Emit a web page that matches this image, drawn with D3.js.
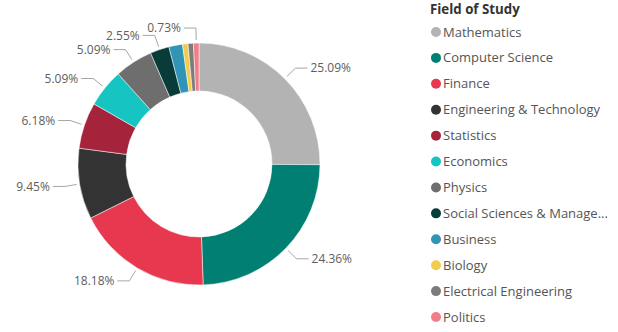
<!DOCTYPE html>
<html>
<head>
<meta charset="utf-8">
<script src="https://cdn.jsdelivr.net/npm/d3@7"></script>
<style>
  html, body { margin: 0; padding: 0; background: #fff; }
  svg { display: block; font-family: "Segoe UI", "Open Sans", "Noto Sans", sans-serif; }
</style>
</head>
<body>
<svg id="chart" width="618" height="332"></svg>
<script>
const categories = ["Mathematics", "Computer Science", "Finance", "Engineering & Technology", "Statistics", "Economics", "Physics", "Social Sciences & Manage...", "Business", "Biology", "Electrical Engineering", "Politics"];
const counts = [69, 67, 50, 26, 17, 14, 14, 7, 5, 2, 2, 2];
const colors = ["#B3B3B3", "#017F73", "#E8384F", "#333333", "#A5243B", "#16C5C1", "#6E6E6E", "#093B39", "#3193B6", "#F1CD4D", "#7C7C7C", "#F07E84"];
const legendTitle = "Field of Study";

const svg = d3.select("#chart");
const cx = 199, cy = 164, R = 121, r0 = 73;
const total = d3.sum(counts);

const data = categories.map((c, i) => ({ name: c, value: counts[i], color: colors[i] }));
const pie = d3.pie().value(d => d.value).sort(null);
const arcs = pie(data);
const arc = d3.arc().innerRadius(r0).outerRadius(R);

const g = svg.append("g").attr("transform", `translate(${cx},${cy})`);
g.selectAll("path").data(arcs).join("path")
  .attr("d", arc)
  .attr("fill", d => d.data.color)
  .attr("stroke", "#fff").attr("stroke-width", 0.5);

// labels
const fmt = v => (v / total * 100).toFixed(2) + "%";
const lineStart = d3.arc().innerRadius(R + 3).outerRadius(R + 3);
const elbowArc = d3.arc().innerRadius(R + 15).outerRadius(R + 15);
const placed = [];
const labelW = 40, labelH = 14;
const layer = g.append("g");
for (let i = arcs.length - 1; i >= 0; i--) {
  const a = arcs[i];
  const mid = (a.startAngle + a.endAngle) / 2;
  const p0 = lineStart.centroid(a);
  const p1 = elbowArc.centroid(a);
  const right = Math.sin(mid) > 0;
  const p2 = [p1[0] + (right ? 12 : -12), p1[1]];
  const tx = p2[0] + (right ? 3 : -3);
  const box = right ? { x0: tx, x1: tx + labelW, y0: p1[1] - labelH / 2, y1: p1[1] + labelH / 2 }
                    : { x0: tx - labelW, x1: tx, y0: p1[1] - labelH / 2, y1: p1[1] + labelH / 2 };
  const hit = placed.some(b => !(box.x1 < b.x0 || box.x0 > b.x1 || box.y1 < b.y0 || box.y0 > b.y1));
  if (hit) continue;
  placed.push(box);
  layer.append("polyline")
    .attr("points", [p0, p1, p2].map(p => p.join(",")).join(" "))
    .attr("fill", "none").attr("stroke", "#A6A6A6").attr("stroke-width", 1);
  layer.append("text")
    .attr("x", tx).attr("y", p1[1])
    .attr("dy", "0.35em")
    .attr("text-anchor", right ? "start" : "end")
    .attr("font-size", 12).attr("fill", "#605E5C")
    .text(fmt(a.data.value));
}

// legend
const lg = svg.append("g");
lg.append("text").attr("x", 430).attr("y", 9).attr("dy", "0.35em")
  .attr("font-size", 13.3).attr("font-weight", "bold").attr("fill", "#333")
  .text(legendTitle);
const ly = d3.scalePoint().domain(categories).range([32, 317]);
const items = lg.selectAll("g.item").data(data).join("g").attr("class", "item")
  .attr("transform", d => `translate(0,${ly(d.name)})`);
items.append("circle").attr("cx", 436).attr("cy", 0).attr("r", 5).attr("fill", d => d.color);
items.append("text").attr("x", 443).attr("y", 0).attr("dy", "0.35em")
  .attr("font-size", 13).attr("fill", "#555")
  .text(d => d.name);
</script>
</body>
</html>
